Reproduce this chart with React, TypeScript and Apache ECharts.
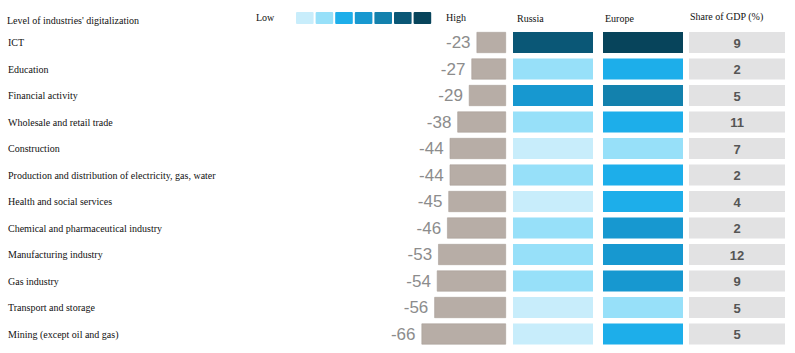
import React, { useEffect, useRef } from "react";
import * as echarts from "echarts";

const categories = [
  "ICT",
  "Education",
  "Financial activity",
  "Wholesale and retail trade",
  "Construction",
  "Production and distribution of electricity, gas, water",
  "Health and social services",
  "Chemical and pharmaceutical industry",
  "Manufacturing industry",
  "Gas industry",
  "Transport and storage",
  "Mining (except oil and gas)",
];
const gapValues = [-23, -27, -29, -38, -44, -44, -45, -46, -53, -54, -56, -66];
const russiaLevels = [6, 2, 4, 2, 1, 2, 1, 2, 2, 2, 1, 1];
const europeLevels = [7, 3, 5, 3, 2, 3, 3, 4, 4, 4, 2, 3];
const shareOfGdp = [9, 2, 5, 11, 7, 2, 4, 2, 12, 9, 5, 5];
const levelColors = ["#c8edfb", "#97e0f9", "#1daeea", "#1798d0", "#1381ad", "#0a5776", "#07445b"];
const columnHeaders = ["Russia", "Europe", "Share of GDP (%)"];

const SERIF = "'Liberation Serif', 'Times New Roman', serif";
const SANS = "'Liberation Sans', Arial, sans-serif";
const ROW_TOP = 29.25;
const ROW_H = 318;
const CELL_H = 21;

export default function App() {
  const ref = useRef<HTMLDivElement>(null);
  useEffect(() => {
    document.body.style.margin = "0";
    if (!ref.current) return;
    const chart = echarts.init(ref.current, undefined, { renderer: "svg" });

    const cellRender = (kind: "level" | "share") => (params: any, api: any) => {
      const yIdx = api.value(1);
      const pt = api.coord([0, yIdx]);
      const sz = api.size([1, 1]);
      const v = api.value(2);
      const rect = {
        type: "rect",
        shape: { x: pt[0] - sz[0] / 2, y: pt[1] - CELL_H / 2, width: sz[0], height: CELL_H },
        style: { fill: kind === "level" ? levelColors[v - 1] : "#e2e2e3" },
      };
      if (kind === "level") return rect;
      return {
        type: "group",
        children: [
          rect,
          {
            type: "text",
            style: {
              text: String(v),
              x: pt[0],
              y: pt[1] + 0.5,
              align: "center",
              verticalAlign: "middle",
              fontFamily: SANS,
              fontSize: 13,
              fontWeight: "bold",
              fill: "#555555",
            },
          },
        ],
      };
    };

    const colGrid = (left: number, width: number) => ({ left, width, top: ROW_TOP, height: ROW_H });
    const hiddenCatY = (gridIndex: number) => ({
      type: "category",
      gridIndex,
      data: categories,
      inverse: true,
      show: false,
    });
    const hiddenCatX = (gridIndex: number) => ({
      type: "category",
      gridIndex,
      data: ["c"],
      show: false,
    });

    const legendGraphics: any[] = levelColors.map((c, i) => ({
      type: "rect",
      shape: { x: 296 + i * 19.6, y: 12, width: 17.6, height: 12, r: 1 },
      style: { fill: c },
    }));
    const txt = (text: string, x: number, y: number) => ({
      type: "text",
      style: { text, x, y, fontFamily: SERIF, fontSize: 10, fill: "#111", verticalAlign: "middle" },
    });

    chart.setOption({
      animation: false,
      backgroundColor: "#ffffff",
      grid: [colGrid(378, 128), colGrid(513, 80), colGrid(603, 80), colGrid(689, 96)],
      xAxis: [
        { type: "value", gridIndex: 0, min: -100, max: 0, show: false },
        hiddenCatX(1),
        hiddenCatX(2),
        hiddenCatX(3),
      ],
      yAxis: [
        {
          type: "category",
          gridIndex: 0,
          data: categories,
          inverse: true,
          axisLine: { show: false },
          axisTick: { show: false },
          axisLabel: {
            align: "left",
            margin: 370,
            fontFamily: SERIF,
            fontSize: 10,
            color: "#111",
          },
        },
        hiddenCatY(1),
        hiddenCatY(2),
        hiddenCatY(3),
      ],
      series: [
        {
          type: "bar",
          xAxisIndex: 0,
          yAxisIndex: 0,
          data: gapValues,
          barWidth: CELL_H,
          itemStyle: { color: "#b7ada6", borderColor: "#aaa098", borderWidth: 0.6 },
          label: {
            show: true,
            position: "left",
            distance: 6,
            fontFamily: SANS,
            fontSize: 17,
            color: "#8c8c8c",
            formatter: (p: any) => String(p.value),
          },
        },
        {
          type: "custom",
          xAxisIndex: 1,
          yAxisIndex: 1,
          data: russiaLevels.map((v, i) => [0, i, v]),
          renderItem: cellRender("level"),
        },
        {
          type: "custom",
          xAxisIndex: 2,
          yAxisIndex: 2,
          data: europeLevels.map((v, i) => [0, i, v]),
          renderItem: cellRender("level"),
        },
        {
          type: "custom",
          xAxisIndex: 3,
          yAxisIndex: 3,
          data: shareOfGdp.map((v, i) => [0, i, v]),
          renderItem: cellRender("share"),
        },
      ],
      graphic: [
        txt("Level of industries' digitalization", 7, 20),
        txt("Low", 256, 17),
        ...legendGraphics,
        txt("High", 446, 17.5),
        txt(columnHeaders[0], 517, 18),
        txt(columnHeaders[1], 605, 18),
        txt(columnHeaders[2], 690, 16),
      ],
    });
    return () => chart.dispose();
  }, []);
  return <div ref={ref} style={{ width: 795, height: 353 }} />;
}
